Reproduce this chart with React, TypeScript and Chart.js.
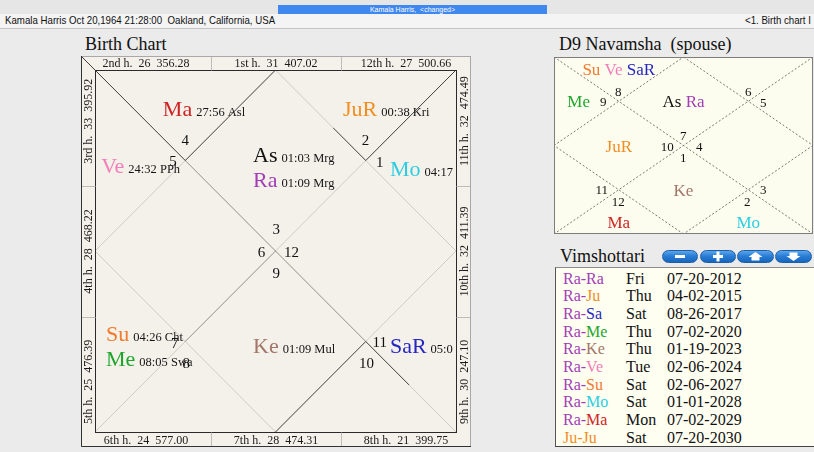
import React, { useEffect, useRef } from 'react';
import { Chart, registerables } from 'chart.js';

Chart.register(...registerables);

const SERIF = '"Liberation Serif", "Times New Roman", Times, serif';
const NARROW = '"Liberation Sans Narrow", "Arial Narrow", "Liberation Sans", Arial, sans-serif';

// ---------- Birth chart (D1) data ----------
const houseOrdinals = ['1st', '2nd', '3rd', '4th', '5th', '6th', '7th', '8th', '9th', '10th', '11th', '12th'];
const houseBindus = [31, 26, 33, 28, 25, 24, 28, 21, 30, 32, 32, 27];
const houseStrength = ['407.02', '356.28', '395.92', '468.22', '476.39', '577.00', '474.31', '399.75', '247.10', '411.39', '474.49', '500.66'];
const d1Signs = [3, 4, 5, 6, 7, 8, 9, 10, 11, 12, 1, 2];
const d1Planets = ['As', 'Ra', 'Ma', 'JuR', 'Ve', 'Mo', 'Su', 'Me', 'Ke', 'SaR'];
const d1Degrees = ['01:03 Mrg', '01:09 Mrg', '27:56 Asl', '00:38 Kri', '24:32 PPh', '04:17', '04:26 Cht', '08:05 Swa', '01:09 Mul', '05:0'];
const d1Houses = [1, 1, 2, 12, 3, 11, 5, 5, 7, 9];

// ---------- D9 Navamsha data ----------
const d9Signs = [7, 8, 9, 10, 11, 12, 1, 2, 3, 4, 5, 6];
const d9Planets = ['As', 'Ra', 'Su', 'Ve', 'SaR', 'Me', 'JuR', 'Ma', 'Ke', 'Mo'];
const d9Houses = [1, 1, 2, 2, 2, 3, 4, 6, 7, 8];

// ---------- Vimshottari data ----------
const dashaMaha = ['Ra', 'Ra', 'Ra', 'Ra', 'Ra', 'Ra', 'Ra', 'Ra', 'Ra', 'Ju'];
const dashaAntar = ['Ra', 'Ju', 'Sa', 'Me', 'Ke', 'Ve', 'Su', 'Mo', 'Ma', 'Ju'];
const dashaDays = ['Fri', 'Thu', 'Sat', 'Thu', 'Thu', 'Tue', 'Sat', 'Sat', 'Mon', 'Sat'];
const dashaDates = ['07-20-2012', '04-02-2015', '08-26-2017', '07-02-2020', '01-19-2023', '02-06-2024', '02-06-2027', '01-01-2028', '07-02-2029', '07-20-2030'];

const planetColors: Record<string, string> = {
  As: '#111111', Ra: '#a23db5', Ma: '#cf2424', Ju: '#f28d1f', Ve: '#f47cb8',
  Mo: '#2ccde3', Su: '#f27a2c', Me: '#1fa52c', Ke: '#a27668', Sa: '#2626c2',
};
const colorOf = (p: string) => planetColors[p.length === 3 && p.endsWith('R') ? p.slice(0, 2) : p] || '#111';

// ---------- layout (unit square 0..100) ----------
const D1_W = 390, D1_H = 391, D1_PAD = 14, D1_PX = 3.61, D1_PY = 3.62;
const D1_XMIN = -D1_PAD / D1_PX, D1_XMAX = D1_XMIN + D1_W / D1_PX;
const D1_YMIN = -D1_PAD / D1_PY, D1_YMAX = D1_YMIN + D1_H / D1_PY;
const D1_STEP = 7.1;
// planet label anchors per house: [left x, baseline y]
const d1PlanetAnchors: [number, number][] = [
  [43.8, 25.3], [18.8, 12.7], [1.7, 28.5], [1.7, 52], [3.05, 74.8], [18.8, 90],
  [43.8, 78.3], [68.7, 90], [81.7, 78.3], [81.7, 52], [81.7, 29.2], [68.7, 12.7],
];
// sign number centers per house
const d1SignPos: [number, number][] = [
  [50.2, 44.0], [25.0, 19.3], [21.6, 25.1], [46.1, 50.2], [22.1, 75.5], [25.3, 81.0],
  [50.2, 56.2], [75.2, 81.0], [78.9, 75.1], [54.4, 50.2], [78.9, 25.5], [74.9, 19.3],
];
const TONE: Record<string, string> = { d: 'rgba(30,30,30,0.85)', m: 'rgba(45,45,45,0.5)', f: 'rgba(90,90,90,0.25)' };
const d1Segments: [number, number, number, number, string][] = [
  [D1_XMIN, D1_YMIN, 25, 25, 'd'], [25, 25, 50, 50, 'm'], [50, 50, 75, 75, 'm'], [75, 75, 87, 87, 'd'], [87, 87, 100, 100, 'f'],
  [100, 0, 75, 25, 'd'], [75, 25, 50, 50, 'f'], [50, 50, 25, 75, 'm'], [25, 75, 0, 100, 'f'],
  [50, 0, 25, 25, 'd'], [25, 25, 0, 50, 'f'], [0, 50, 25, 75, 'f'], [25, 75, 50, 100, 'f'],
  [50, 100, 75, 75, 'd'], [75, 75, 100, 50, 'f'], [100, 50, 75, 25, 'f'], [75, 25, 66, 16, 'd'], [66, 16, 50, 0, 'f'],
];
// strip placement: houses in top/bottom/left/right strips
const stripTop = [2, 1, 12];
const stripBottom = [6, 7, 8];
const stripLeft = [3, 4, 5];
const stripRight = [11, 10, 9];

const D9_W = 259, D9_H = 177;
const d9PlanetAnchors: [number, number][] = [
  [50, 28.4], [25, 10.2], [9.5, 28.1], [25, 53.5], [9.5, 72], [25, 96.8],
  [50, 78.4], [75, 96.8], [90.5, 72], [75, 53.5], [90.5, 28.1], [75, 10.2],
];
const d9SignPos: [number, number][] = [
  [49.9, 44.6], [24.8, 19.6], [19.0, 25.3], [43.7, 50.7], [18.4, 75.1], [24.8, 81.8],
  [49.9, 56.7], [74.6, 81.8], [80.8, 75.1], [56.1, 50.7], [80.8, 25.8], [75.0, 19.6],
];
const d9Segments: [number, number, number, number][] = [
  [0, 0, 100, 100], [100, 0, 0, 100],
  [50, 0, 100, 50], [100, 50, 50, 100], [50, 100, 0, 50], [0, 50, 50, 0],
];

const baseOptions = (xmin: number, xmax: number, ymin: number, ymax: number) => ({
  responsive: false,
  animation: false as const,
  devicePixelRatio: 1,
  events: [] as any[],
  layout: { padding: 0, autoPadding: false },
  plugins: { legend: { display: false }, tooltip: { enabled: false } },
  scales: {
    x: { type: 'linear' as const, min: xmin, max: xmax, display: false },
    y: { type: 'linear' as const, min: ymin, max: ymax, reverse: true, display: false },
  },
});

function BirthChart() {
  const ref = useRef<HTMLCanvasElement>(null);
  useEffect(() => {
    const canvas = ref.current!;
    const plugin = {
      id: 'd1draw',
      beforeDraw(chart: any) {
        const c = chart.ctx;
        c.save();
        c.fillStyle = '#f3f1ea';
        c.fillRect(0, 0, chart.width, chart.height);
        c.restore();
      },
      afterDatasetsDraw(chart: any) {
        const c: CanvasRenderingContext2D = chart.ctx;
        const xs = chart.scales.x, ys = chart.scales.y;
        const W = chart.width, H = chart.height;
        const X = (v: number) => xs.getPixelForValue(v);
        const Y = (v: number) => ys.getPixelForValue(v);
        c.save();
        // outer frame
        c.lineWidth = 1;
        c.strokeStyle = '#a8a8a8';
        c.strokeRect(0.5, 0.5, W - 1, H - 1);
        c.strokeStyle = '#333';
        c.beginPath();
        c.moveTo(0.5, 0); c.lineTo(0.5, H - 0.5); c.lineTo(W, H - 0.5);
        c.stroke();
        // inner square
        const x0 = Math.round(X(0)) + 0.5, x1 = Math.round(X(100)) + 0.5;
        const y0 = Math.round(Y(0)) + 0.5, y1 = Math.round(Y(100)) + 0.5;
        c.strokeStyle = '#2a2a2a';
        c.strokeRect(x0, y0, x1 - x0, y1 - y0);
        // strip separators
        c.strokeStyle = '#bdbdbd';
        c.beginPath();
        [W / 3, (2 * W) / 3].forEach((sx) => {
          const px = Math.round(sx) + 0.5;
          c.moveTo(px, 1); c.lineTo(px, y0);
          c.moveTo(px, y1); c.lineTo(px, H - 1);
        });
        [H / 3, (2 * H) / 3].forEach((sy) => {
          const py = Math.round(sy) + 0.5;
          c.moveTo(1, py); c.lineTo(x0, py);
          c.moveTo(x1, py); c.lineTo(W - 1, py);
        });
        c.stroke();
        // strip labels
        const label = (h: number) => `${houseOrdinals[h - 1]} h.  ${houseBindus[h - 1]}  ${houseStrength[h - 1]}`;
        c.fillStyle = '#1a1a1a';
        c.font = `12px ${SERIF}`;
        c.textAlign = 'center';
        c.textBaseline = 'alphabetic';
        stripTop.forEach((h, i) => c.fillText(label(h), (W * (i + 0.5)) / 3, 11));
        stripBottom.forEach((h, i) => c.fillText(label(h), (W * (i + 0.5)) / 3, H - 3));
        stripLeft.forEach((h, i) => {
          c.save();
          c.translate(11, (H * (i + 0.5)) / 3);
          c.rotate(-Math.PI / 2);
          c.fillText(label(h), 0, 0);
          c.restore();
        });
        stripRight.forEach((h, i) => {
          c.save();
          c.translate(W - 3, (H * (i + 0.5)) / 3);
          c.rotate(-Math.PI / 2);
          c.fillText(label(h), 0, 0);
          c.restore();
        });
        // planets (clipped to the inner square)
        c.save();
        c.beginPath();
        c.rect(x0, y0, x1 - x0, y1 - y0);
        c.clip();
        c.textAlign = 'left';
        const counts: Record<number, number> = {};
        d1Planets.forEach((p, i) => {
          const h = d1Houses[i];
          const k = counts[h] ?? 0;
          counts[h] = k + 1;
          const a = d1PlanetAnchors[h - 1];
          const px = X(a[0]);
          const py = Y(a[1] + k * D1_STEP);
          c.font = `22px ${SERIF}`;
          c.fillStyle = colorOf(p);
          c.fillText(p, px, py);
          const w = c.measureText(p).width;
          c.font = `12.5px ${SERIF}`;
          c.fillStyle = '#151515';
          c.fillText(d1Degrees[i], px + w + 4, py);
        });
        // sign numbers
        c.font = `15px ${SERIF}`;
        c.textAlign = 'center';
        c.fillStyle = '#111';
        d1Signs.forEach((s, i) => {
          const pos = d1SignPos[i];
          c.fillText(String(s), X(pos[0]), Y(pos[1]) + 5);
        });
        c.restore();
        c.restore();
      },
    };
    const chart = new Chart(canvas, {
      type: 'scatter',
      data: {
        datasets: d1Segments.map((s) => ({
          data: [{ x: s[0], y: s[1] }, { x: s[2], y: s[3] }],
          showLine: true,
          borderColor: TONE[s[4]],
          borderWidth: 1,
          pointRadius: 0,
          clip: false as any,
        })),
      },
      options: baseOptions(D1_XMIN, D1_XMAX, D1_YMIN, D1_YMAX) as any,
      plugins: [plugin],
    });
    return () => chart.destroy();
  }, []);
  return <canvas ref={ref} width={D1_W} height={D1_H} style={{ position: 'absolute', left: 81, top: 56, width: D1_W, height: D1_H }} />;
}

function NavamshaChart() {
  const ref = useRef<HTMLCanvasElement>(null);
  useEffect(() => {
    const canvas = ref.current!;
    const plugin = {
      id: 'd9draw',
      beforeDraw(chart: any) {
        const c = chart.ctx;
        c.save();
        c.fillStyle = '#fdfdef';
        c.fillRect(0, 0, chart.width, chart.height);
        c.restore();
      },
      afterDatasetsDraw(chart: any) {
        const c: CanvasRenderingContext2D = chart.ctx;
        const xs = chart.scales.x, ys = chart.scales.y;
        const X = (v: number) => xs.getPixelForValue(v);
        const Y = (v: number) => ys.getPixelForValue(v);
        c.save();
        c.strokeStyle = '#7d7d7d';
        c.lineWidth = 1;
        c.strokeRect(0.5, 0.5, chart.width - 1, chart.height - 1);
        // sign numbers
        c.font = `13px ${SERIF}`;
        c.textAlign = 'center';
        c.textBaseline = 'alphabetic';
        c.fillStyle = '#111';
        d9Signs.forEach((s, i) => {
          const p = d9SignPos[i];
          c.fillText(String(s), X(p[0]), Y(p[1]) + 4.5);
        });
        // planets grouped by house, centred
        c.font = `17px ${SERIF}`;
        c.textAlign = 'left';
        for (let h = 1; h <= 12; h++) {
          const ps = d9Planets.filter((_, i) => d9Houses[i] === h);
          if (!ps.length) continue;
          const space = c.measureText(' ').width;
          const widths = ps.map((p) => c.measureText(p).width);
          const total = widths.reduce((a, b) => a + b, 0) + space * (ps.length - 1);
          const a = d9PlanetAnchors[h - 1];
          let px = X(a[0]) - total / 2;
          const py = Y(a[1]);
          ps.forEach((p, j) => {
            c.fillStyle = colorOf(p);
            c.fillText(p, px, py);
            px += widths[j] + space;
          });
        }
        c.restore();
      },
    };
    const chart = new Chart(canvas, {
      type: 'scatter',
      data: {
        datasets: d9Segments.map((s) => ({
          data: [{ x: s[0], y: s[1] }, { x: s[2], y: s[3] }],
          showLine: true,
          borderColor: 'rgba(95,95,95,0.85)',
          borderWidth: 1,
          borderDash: [2, 2],
          pointRadius: 0,
        })),
      },
      options: baseOptions(0, 100, 0, 100) as any,
      plugins: [plugin],
    });
    return () => chart.destroy();
  }, []);
  return <canvas ref={ref} width={D9_W} height={D9_H} style={{ position: 'absolute', left: 554, top: 57, width: D9_W, height: D9_H }} />;
}

function PillButton({ left, width, kind }: { left: number; width: number; kind: string }) {
  let icon: React.ReactNode = null;
  if (kind === 'minus') icon = <rect x={-5} y={-1.5} width={10} height={3} fill="#fff" />;
  if (kind === 'plus') icon = <path d="M-1.5,-5 h3 v3.5 h3.5 v3 h-3.5 v3.5 h-3 v-3.5 h-3.5 v-3 h3.5z" fill="#fff" />;
  if (kind === 'up') icon = <path d="M0,-4.5 L7,0.5 L4,0.5 L4,4 L-4,4 L-4,0.5 L-7,0.5z" fill="#fff" />;
  if (kind === 'down') icon = <path d="M0,4.5 L7,-0.5 L4,-0.5 L4,-4 L-4,-4 L-4,-0.5 L-7,-0.5z" fill="#fff" />;
  return (
    <div
      style={{
        position: 'absolute', left, top: 250, width, height: 13, boxSizing: 'border-box',
        borderRadius: 7, border: '1px solid #1c5ea8',
        background: 'linear-gradient(to bottom, #5aa6ec 0%, #2a7ed6 45%, #1766bd 100%)',
      }}
    >
      <svg width={width - 2} height={11} style={{ position: 'absolute', left: 0, top: 0 }}>
        <g transform={`translate(${(width - 2) / 2},5.5)`}>{icon}</g>
      </svg>
    </div>
  );
}

export default function App() {
  const rowH = 17.67;
  return (
    <div style={{ position: 'fixed', left: 0, top: 0, width: 814, height: 452, overflow: 'hidden', background: '#ebebeb', fontFamily: SERIF }}>
      {/* window bar */}
      <div style={{ position: 'absolute', left: 0, top: 0, width: 814, height: 14, background: '#e6e6e6' }} />
      <div style={{ position: 'absolute', left: 278, top: 5, width: 269, height: 9, background: '#3f88ef', color: '#fff', font: `7px "Liberation Sans", Arial, sans-serif`, lineHeight: '9px', textAlign: 'center', whiteSpace: 'pre' }}>
        {'Kamala Harris,  <changed>'}
      </div>
      <div style={{ position: 'absolute', left: 0, top: 14, width: 814, height: 14, background: '#f4f4f4', borderBottom: '1px solid #c4c4c4' }} />
      <div style={{ position: 'absolute', left: 5, top: 14, height: 14, lineHeight: '14px', font: `11px ${NARROW}`, color: '#111', whiteSpace: 'pre', transform: 'scaleX(0.88)', transformOrigin: '0 0' }}>
        {'Kamala Harris Oct 20,1964 21:28:00  Oakland, California, USA'}
      </div>
      <div style={{ position: 'absolute', left: 745, top: 14, height: 14, lineHeight: '14px', font: `11px ${NARROW}`, color: '#111', whiteSpace: 'pre', transform: 'scaleX(0.88)', transformOrigin: '0 0' }}>
        {'<1. Birth chart I'}
      </div>

      {/* titles */}
      <div style={{ position: 'absolute', left: 85, top: 35, fontSize: 18, lineHeight: '18px', color: '#111', whiteSpace: 'pre' }}>Birth Chart</div>
      <div style={{ position: 'absolute', left: 559, top: 35, fontSize: 18, lineHeight: '18px', color: '#111', whiteSpace: 'pre' }}>{'D9 Navamsha  (spouse)'}</div>

      <BirthChart />
      <NavamshaChart />

      {/* Vimshottari */}
      <div style={{ position: 'absolute', left: 560, top: 247, fontSize: 18, lineHeight: '18px', color: '#111' }}>Vimshottari</div>
      <PillButton left={662} width={36} kind="minus" />
      <PillButton left={700} width={36} kind="plus" />
      <PillButton left={737} width={37} kind="up" />
      <PillButton left={775} width={37} kind="down" />
      <div style={{ position: 'absolute', left: 555, top: 267, width: 270, height: 178, background: '#fefef1', borderTop: '1px solid #8a8a8a', borderLeft: '1px solid #555', borderBottom: '1px solid #444' }}>
        {dashaMaha.map((m, i) => (
          <div key={i} style={{ position: 'absolute', left: 0, top: 1.8 + i * rowH, height: rowH, width: 270, fontSize: 16, lineHeight: `${rowH}px`, whiteSpace: 'pre' }}>
            <span style={{ position: 'absolute', left: 7 }}>
              <span style={{ color: colorOf(m) }}>{m}-</span>
              <span style={{ color: colorOf(dashaAntar[i]) }}>{dashaAntar[i]}</span>
            </span>
            <span style={{ position: 'absolute', left: 70, color: '#111' }}>{dashaDays[i]}</span>
            <span style={{ position: 'absolute', left: 111, color: '#111' }}>{dashaDates[i]}</span>
          </div>
        ))}
      </div>
    </div>
  );
}
